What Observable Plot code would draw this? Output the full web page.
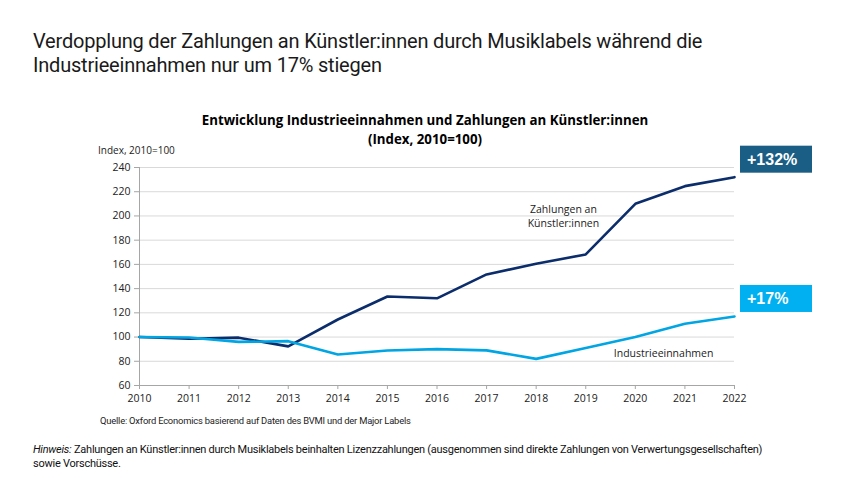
<!DOCTYPE html>
<html>
<head>
<meta charset="utf-8">
<script src="https://cdn.jsdelivr.net/npm/d3@7"></script>
<script src="https://cdn.jsdelivr.net/npm/@observablehq/plot@0.6"></script>
<style>
  html, body { margin: 0; padding: 0; background: #fff; }
  body { width: 850px; height: 478px; position: relative; overflow: hidden; font-family: Lato, "Open Sans", sans-serif; }
  .abs { position: absolute; white-space: nowrap; }
  .title { left: 33px; font-family: Roboto, sans-serif; font-size: 20px; line-height: 20px; color: #1a1a1a; letter-spacing: -0.2px; }
  #t1 { top: 31px; }
  #t2 { top: 55px; }
  #ctitle { left: 0; width: 850px; top: 111px; text-align: center; font-family: "Open Sans", sans-serif; font-weight: 700; font-size: 13.3px; line-height: 19px; color: #000; }
  #ylab { left: 98px; top: 143px; font-family: "Open Sans", sans-serif; font-size: 10px; color: #222; }
  #quelle { left: 100px; top: 415px; font-family: Roboto, sans-serif; font-size: 9.4px; color: #222; letter-spacing: -0.2px; }
  .hin { left: 33px; font-family: Roboto, sans-serif; font-size: 11px; line-height: 13px; color: #111; letter-spacing: -0.25px; }
  #h1 { top: 443px; }
  #h2 { top: 457px; }
  #chart { position: absolute; left: 0; top: 0; }
</style>
</head>
<body>
<div id="chart"></div>
<div class="abs title" id="t1">Verdopplung der Zahlungen an Künstler:innen durch Musiklabels während die</div>
<div class="abs title" id="t2">Industrieeinnahmen nur um 17% stiegen</div>
<div class="abs" id="ctitle">Entwicklung Industrieeinnahmen und Zahlungen an Künstler:innen<br>(Index, 2010=100)</div>
<div class="abs" id="ylab">Index, 2010=100</div>
<div class="abs" id="quelle">Quelle: Oxford Economics basierend auf Daten des BVMI und der Major Labels</div>
<div class="abs hin" id="h1"><i>Hinweis:</i> Zahlungen an Künstler:innen durch Musiklabels beinhalten Lizenzzahlungen (ausgenommen sind direkte Zahlungen von Verwertungsgesellschaften)</div>
<div class="abs hin" id="h2">sowie Vorschüsse.</div>
<script>
const years = [2010, 2011, 2012, 2013, 2014, 2015, 2016, 2017, 2018, 2019, 2020, 2021, 2022];
const zahlungen = [100, 98.6, 99.5, 92.3, 114.5, 133.5, 132, 151.7, 160.5, 168.2, 210, 224.6, 232];
const industrie = [100, 99.6, 96, 96.6, 85.6, 88.9, 90, 89, 82, 91, 100, 111, 117];
const yTicks = [60, 80, 100, 120, 140, 160, 180, 200, 220, 240];
const seriesNames = ["Zahlungen an Künstler:innen", "Industrieeinnahmen"];
const seriesColors = ["#0c2d6b", "#00a5e3"];
const boxLabels = ["+132%", "+17%"];
const boxColors = ["#1b5e85", "#00b0f0"];

const rows = [];
years.forEach((y, i) => {
  rows.push({year: y, value: zahlungen[i], series: seriesNames[0]});
  rows.push({year: y, value: industrie[i], series: seriesNames[1]});
});

const plot = Plot.plot({
  width: 850,
  height: 478,
  marginLeft: 139,
  marginRight: 116,
  marginTop: 167,
  marginBottom: 93,
  style: {fontFamily: "'Open Sans', sans-serif", fontSize: "10.5px", color: "#222", background: "transparent"},
  x: {domain: [2010, 2022], ticks: years, tickFormat: "d", label: null, tickSize: 4, tickPadding: 5},
  y: {domain: [60, 240], ticks: yTicks, label: null, tickSize: 5, tickPadding: 4},
  color: {domain: seriesNames, range: seriesColors},
  marks: [
    Plot.gridY(yTicks.filter(d => d > 60), {stroke: "#d9d9d9", strokeOpacity: 1, strokeWidth: 1}),
    Plot.axisY({ticks: yTicks, tickSize: 5, tickPadding: 4, stroke: "#a6a6a6", fill: "#222", label: null}),
    Plot.axisX({ticks: years, tickFormat: "d", tickSize: 4, tickPadding: 5, stroke: "#a6a6a6", fill: "#222", label: null}),
    Plot.ruleX([2010], {stroke: "#a6a6a6"}),
    Plot.ruleY([60], {stroke: "#a6a6a6"}),
    Plot.line(rows, {x: "year", y: "value", z: "series", stroke: "series", strokeWidth: 2.6, strokeLinejoin: "miter", curve: "linear"}),
    Plot.text([{year: 2018.55, value: 200.5}], {x: "year", y: "value", text: () => "Zahlungen an\nKünstler:innen", fontSize: 10.5, fill: "#222", lineHeight: 1.4}),
    Plot.text([{year: 2020.57, value: 86.5}], {x: "year", y: "value", text: () => "Industrieeinnahmen", fontSize: 10.5, fill: "#222"})
  ]
});
document.getElementById("chart").appendChild(plot);

// Annotation boxes placed via the plot's own scales
const xs = plot.scale("x"), ys = plot.scale("y");
const svg = d3.select(plot);
const ends = [zahlungen[zahlungen.length - 1], industrie[industrie.length - 1]];
ends.forEach((v, i) => {
  const px = xs.apply(years[years.length - 1]) + 6;
  const py = ys.apply(v) - 31;
  const g = svg.append("g");
  g.append("rect").attr("x", px).attr("y", py).attr("width", 72).attr("height", 27).attr("fill", boxColors[i]);
  g.append("text").attr("x", px + 7).attr("y", py + 19).attr("fill", "#fff").attr("text-anchor", "start")
    .attr("font-family", "'Liberation Sans', Arial, sans-serif").attr("font-weight", 700).attr("font-size", 16)
    .text(boxLabels[i]);
});
</script>
</body>
</html>
